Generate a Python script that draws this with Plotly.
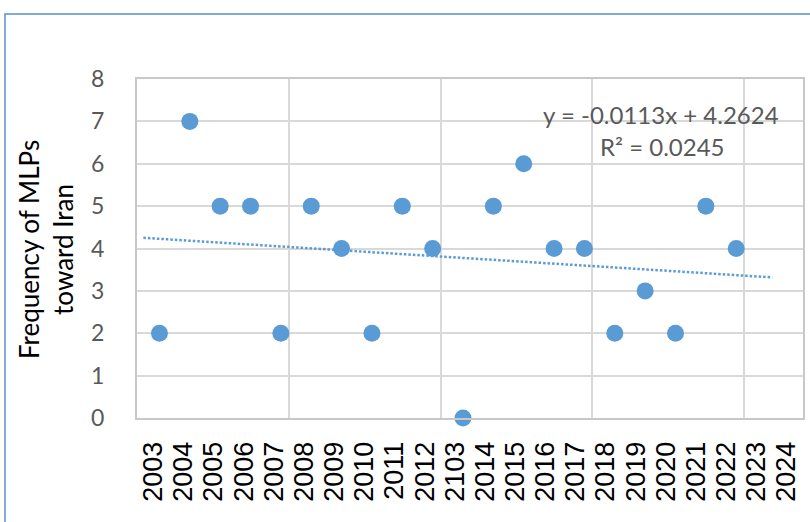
import numpy as np
import plotly.graph_objects as go

# ---- data ----
year_labels = ["2003", "2004", "2005", "2006", "2007", "2008", "2009", "2010", "2011", "2012",
               "2103", "2014", "2015", "2016", "2017", "2018", "2019", "2020", "2021", "2022",
               "2023", "2024"]
mlp_counts = [2, 7, 5, 5, 2, 5, 4, 2, 5, 4, 0, 5, 6, 4, 4, 2, 3, 2, 5, 4]
y_title = "Frequency of MLPs<br>toward Iran"
equation_text = "y = -0.0113x + 4.2624"
r2_text = "R² = 0.0245"

# ---- positions ----
x_idx = np.arange(len(mlp_counts))
slope, intercept = np.polyfit(x_idx, mlp_counts, 1)
trend_x = np.array([-0.53, 20.19])
trend_y = slope * trend_x + intercept

label_pos = [-0.2 + 0.9934 * k for k in range(len(year_labels))]
grid_pos = [-0.74 + 5 * k for k in range(5)]

BLUE = "#5B9BD5"
GRID = "#d9d9d9"

W, H = 810, 522
L, R, T, B = 137, 7, 79, 104
pw, ph = W - L - R, H - T - B

def px(x):
    return (x - L) / pw

def py(y):
    return 1 - (y - T) / ph

fig = go.Figure()
fig.add_trace(go.Scatter(
    x=trend_x, y=trend_y, mode="lines",
    line=dict(color=BLUE, width=2.5, dash="2.5px,2px"),
    hoverinfo="skip", showlegend=False))
fig.add_trace(go.Scatter(
    x=x_idx, y=mlp_counts, mode="markers", cliponaxis=False,
    marker=dict(color=BLUE, size=17, line=dict(width=0)),
    showlegend=False))

fig.add_annotation(x=px(661), y=py(115), xref="paper", yref="paper", text=equation_text,
                   xanchor="center", yanchor="middle",
                   showarrow=False, font=dict(family="Lato", size=24, color="#595959"))
fig.add_annotation(x=px(662), y=py(146), xref="paper", yref="paper", text=r2_text,
                   xanchor="center", yanchor="middle",
                   showarrow=False, font=dict(family="Lato", size=24, color="#595959"))

# y-axis title as annotation (two lines, rotated)
fig.add_annotation(x=px(46), y=py(250), xref="paper", yref="paper", text=y_title,
                   xanchor="center", yanchor="middle",
                   showarrow=False, textangle=-90,
                   font=dict(family="Lato", size=26, color="black"))

fig.add_shape(type="rect", xref="paper", yref="paper",
              x0=px(5), x1=px(830), y0=py(14), y1=py(560),
              line=dict(color="#5b8fd0", width=1.5), fillcolor="rgba(0,0,0,0)", layer="below")

fig.update_layout(
    width=W, height=H,
    margin=dict(l=L, r=R, t=T, b=B, pad=0, autoexpand=False),
    paper_bgcolor="white", plot_bgcolor="white",
    xaxis=dict(range=[-0.74, 21.2], tickmode="array", tickvals=label_pos, ticktext=year_labels,
               tickangle=-90, showgrid=False, zeroline=False, automargin=False,
               showline=True, linecolor="#c8c8c8", linewidth=2, mirror=True,
               ticks="", ticklabelstandoff=11,
               tickfont=dict(family="Liberation Sans", size=27, color="black"),
               minor=dict(tickmode="array", tickvals=grid_pos, showgrid=True,
                          gridcolor=GRID, gridwidth=2, ticks="")),
    yaxis=dict(range=[0, 8], tickmode="array", tickvals=list(range(9)),
               showgrid=True, gridcolor=GRID, gridwidth=2, zeroline=False, automargin=False,
               showline=True, linecolor="#c8c8c8", linewidth=2, mirror=True,
               ticks="", ticklabelstandoff=26,
               tickfont=dict(family="Lato", size=23, color="#595959")),
)

fig.write_html("out.html", config={"displayModeBar": False},
               post_script="document.body.style.margin='0px';")
